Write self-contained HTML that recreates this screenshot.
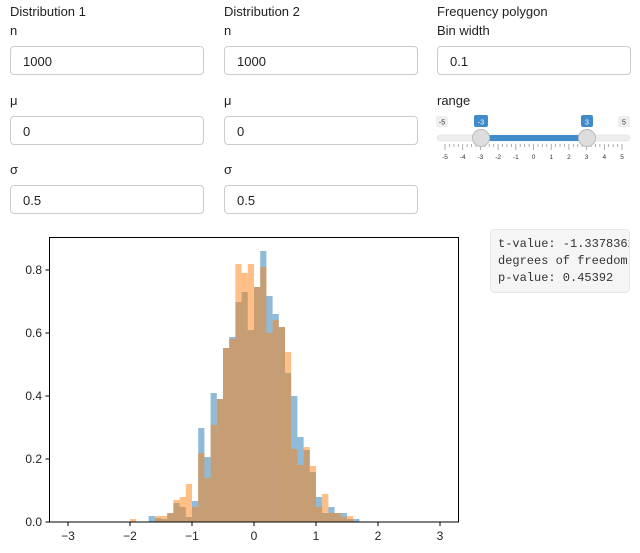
<!DOCTYPE html>
<html><head><meta charset="utf-8"><style>
body{margin:0;width:640px;height:553px;background:#fff;font-family:"Liberation Sans",sans-serif;color:#222;position:relative;overflow:hidden}
.l{position:absolute;font-size:13px}
.in{position:absolute;width:191px;height:29px;border:1px solid #ccc;border-radius:4px;font-size:13px;line-height:29px;padding-left:12px;box-sizing:border-box}
.st{position:absolute;left:490px;top:229px;width:140px;height:64px;background:#f5f5f5;border:1px solid #e8e8e8;border-radius:4px;box-sizing:border-box;overflow:hidden;font-family:"Liberation Mono",monospace;font-size:12px;line-height:17px;padding:6px 0 0 7px;white-space:pre;color:#333}
</style></head><body>
<div class="l" style="left:10px;top:4px">Distribution 1</div>
<div class="l" style="left:10px;top:23px">n</div>
<div class="in" style="left:10px;top:46px;width:194px">1000</div>
<div class="l" style="left:10px;top:93px">μ</div>
<div class="in" style="left:10px;top:116px;width:194px">0</div>
<div class="l" style="left:10px;top:162px">σ</div>
<div class="in" style="left:10px;top:185px;width:194px">0.5</div>

<div class="l" style="left:224px;top:4px">Distribution 2</div>
<div class="l" style="left:224px;top:23px">n</div>
<div class="in" style="left:224px;top:46px;width:194px">1000</div>
<div class="l" style="left:224px;top:93px">μ</div>
<div class="in" style="left:224px;top:116px;width:194px">0</div>
<div class="l" style="left:224px;top:162px">σ</div>
<div class="in" style="left:224px;top:185px;width:194px">0.5</div>

<div class="l" style="left:437px;top:4px">Frequency polygon</div>
<div class="l" style="left:437px;top:23px">Bin width</div>
<div class="in" style="left:437px;top:46px;width:194px">0.1</div>
<div class="l" style="left:437px;top:93px">range</div>

<svg style="position:absolute;left:0;top:0" width="640" height="553" id="s">
<g font-family="Liberation Sans" font-size="7" fill="#333" text-anchor="middle">
<rect x="436" y="116" width="12" height="11" rx="2" fill="#eee"/><text x="442" y="124.5">-5</text>
<rect x="618" y="116" width="12" height="11" rx="2" fill="#eee"/><text x="624" y="124.5">5</text>
<rect x="474" y="115" width="14" height="12" rx="2" fill="#428bca"/><text x="481" y="124.5" fill="#fff">-3</text>
<rect x="581" y="115" width="12" height="12" rx="2" fill="#428bca"/><text x="587" y="124.5" fill="#fff">3</text>
</g>
<rect x="437" y="135" width="193" height="6" rx="3" fill="#eee" stroke="#ddd" stroke-width="0.5"/>
<rect x="481" y="135" width="106" height="6" fill="#428bca"/>
<g id="tk" stroke="#999" stroke-width="0.8"></g>
<g id="tl" font-family="Liberation Sans" font-size="6.5" fill="#333" text-anchor="middle"></g>
<circle cx="481" cy="138" r="8.5" fill="#ddd" stroke="#bbb"/>
<circle cx="587" cy="138" r="8.5" fill="#ddd" stroke="#bbb"/>
<g id="bars"></g>
<rect x="49.5" y="237.5" width="409" height="284.5" fill="none" stroke="#000" stroke-width="1"/>
<g id="ax" font-family="Liberation Sans" font-size="12" fill="#222"></g>
</svg>
<div class="st">t-value: -1.33783629
degrees of freedom: 1998
p-value: 0.45392</div>
<script>
var ns="http://www.w3.org/2000/svg";
function el(p,t,a,txt){var e=document.createElementNS(ns,t);for(var k in a)e.setAttribute(k,a[k]);if(txt!=null)e.textContent=txt;document.getElementById(p).appendChild(e);}
for(var i=0;i<=40;i++){var x=445+i*177/40;var major=i%4==0;el("tk","line",{x1:x,x2:x,y1:144,y2:major?150:147});}
for(var v=-5;v<=5;v++){el("tl","text",{x:445+(v+5)*17.7,y:159},String(v));}
var d=[[-2.0,522,519],[-1.7,516,522],[-1.6,518,516],[-1.5,519,516],[-1.4,513,513],[-1.3,503,500],[-1.2,507,497],[-1.1,517,484],[-1.0,501,507],[-0.9,428,453],[-0.8,457,478],[-0.7,393,425],[-0.6,399,399],[-0.5,348,348],[-0.4,337,339],[-0.3,302,264],[-0.2,292,273],[-0.1,330,264],[0.0,287,287],[0.1,251,267],[0.2,296,333],[0.3,314,320],[0.4,327,327],[0.5,373,352],[0.6,396,449],[0.7,437,465],[0.8,450,447],[0.9,472,466],[1.0,497,507],[1.1,513,494],[1.2,507,513],[1.3,513,513],[1.4,513,517],[1.5,519,516],[1.6,519,522]];
d.forEach(function(b){var x=254+62*b[0];
 if(b[1]<522)el("bars","rect",{x:x,y:b[1],width:6.2,height:522-b[1],fill:"#1f77b4","fill-opacity":0.5});
 if(b[2]<522)el("bars","rect",{x:x,y:b[2],width:6.2,height:522-b[2],fill:"#ff7f0e","fill-opacity":0.5});});
[0,0.2,0.4,0.6,0.8].forEach(function(v){var y=522-v*315;el("ax","line",{x1:45.5,x2:49.5,y1:y,y2:y,stroke:"#000"});el("ax","text",{x:42,y:y+4,"text-anchor":"end"},v.toFixed(1));});
for(var v=-3;v<=3;v++){var x=254+62*v;el("ax","line",{x1:x,x2:x,y1:522,y2:526,stroke:"#000"});el("ax","text",{x:x,y:540,"text-anchor":"middle"},String(v).replace("-","−"));}
</script>
</body></html>
